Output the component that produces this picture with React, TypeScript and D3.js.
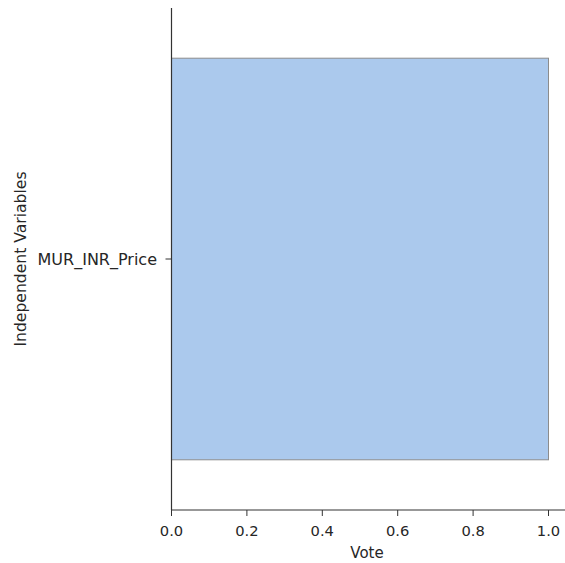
import React from "react";
import * as d3 from "d3";

const categories = ["MUR_INR_Price"];
const votes = [1.0];
const xTicks = [0, 0.2, 0.4, 0.6, 0.8, 1.0];

export default function App() {
  const W = 565, H = 563;
  const left = 171.5, top = 8, bottom = 510;
  const x = d3.scaleLinear().domain([0, 1.05]).range([left, left + 377 * 1.05]);
  const y = d3.scaleBand().domain(categories).range([top, bottom]).paddingInner(0.2).paddingOuter(0.1);
  const font = "DejaVu Sans, sans-serif";
  const tickFs = 14.7;
  const labelFs = 16;
  return (
    <svg width={W} height={H} style={{ position: "absolute", left: 0, top: 0, background: "#fff" }}>
      {categories.map((c, i) => (
        <rect key={c} x={x(0)} y={y(c)!} width={x(votes[i]) - x(0)} height={y.bandwidth()}
          fill="#abc9ed" stroke="#8c8c8c" strokeWidth={1} />
      ))}
      <line x1={left} x2={left} y1={top} y2={bottom} stroke="#333" strokeWidth={1.2} />
      <line x1={left} x2={W} y1={bottom} y2={bottom} stroke="#333" strokeWidth={1.2} />
      {xTicks.map(t => (
        <g key={t}>
          <line x1={x(t)} x2={x(t)} y1={bottom} y2={bottom + 6} stroke="#333" strokeWidth={1} />
          <text x={x(t)} y={bottom + 26} textAnchor="middle" fontFamily={font} fontSize={tickFs} fill="#262626">{t.toFixed(1)}</text>
        </g>
      ))}
      {categories.map(c => {
        const cy = y(c)! + y.bandwidth() / 2;
        return (
          <g key={c}>
            <line x1={left - 6} x2={left} y1={cy} y2={cy} stroke="#333" strokeWidth={1} />
            <text x={157} y={cy} dy="0.36em" textAnchor="end" fontFamily={font} fontSize={tickFs + 1.3} fill="#262626">{c}</text>
          </g>
        );
      })}
      <text x={367} y={558} textAnchor="middle" fontFamily={font} fontSize={15} fill="#262626">Vote</text>
      <text transform={`translate(26,${(top + bottom) / 2}) rotate(-90)`} textAnchor="middle" fontFamily={font} fontSize={15.6} fill="#262626">Independent Variables</text>
    </svg>
  );
}
